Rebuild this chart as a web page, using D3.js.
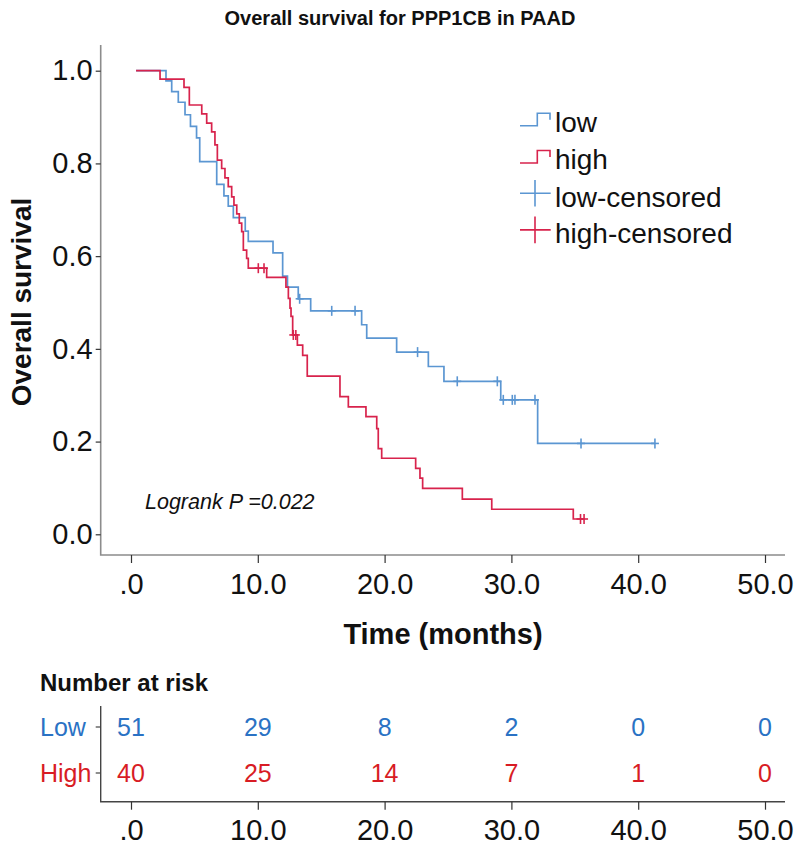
<!DOCTYPE html>
<html>
<head>
<meta charset="utf-8">
<script src="https://cdn.jsdelivr.net/npm/d3@7"></script>
<style>
  html, body { margin: 0; padding: 0; background: #fff; }
  svg { display: block; font-family: "Liberation Sans", Arial, sans-serif; }
</style>
</head>
<body>
<svg id="chart" width="800" height="853"></svg>
<script>
// ---------------- data ----------------
const startTime = 0.4;
// Low group (blue): event times and survival after each drop
const lowTimes = [2.76, 3.21, 3.73, 4.26, 4.69, 5.17, 5.42, 6.76, 7.33, 7.67, 8.07, 9.01, 9.25,
  11.2, 11.96, 12.34, 13.19, 14.17, 18.19, 18.59, 20.95, 23.45, 24.68, 29.16, 32.07];
const lowSurv = [0.978, 0.955, 0.932, 0.905, 0.880, 0.855, 0.804, 0.755, 0.730, 0.708, 0.683, 0.654, 0.632,
  0.607, 0.557, 0.533, 0.508, 0.482, 0.452, 0.423, 0.393, 0.362, 0.330, 0.290, 0.196];
const lowCensor = [13.3, 15.83, 17.67, 22.6, 25.73, 28.89, 29.36, 30.07, 30.28, 31.86, 35.49, 41.32];
const lowEnd = 41.32;

// High group (red)
const highTimes = [2.29, 4.18, 4.60, 5.58, 5.97, 6.36, 6.62, 6.81, 7.15, 7.41, 7.67, 7.94, 8.12, 8.34,
  8.54, 8.73, 8.86, 9.12, 9.25, 10.70, 12.22, 12.41, 12.54, 12.62, 12.75, 13.12, 13.54, 13.90,
  16.48, 17.14, 18.53, 19.38, 19.50, 19.77, 22.45, 22.79, 23.0, 26.13, 28.45, 34.88];
const highSurv = [0.982, 0.964, 0.926, 0.907, 0.887, 0.868, 0.840, 0.807, 0.789, 0.769, 0.750, 0.728, 0.710, 0.691,
  0.671, 0.653, 0.613, 0.595, 0.574, 0.554, 0.533, 0.509, 0.488, 0.470, 0.430, 0.408, 0.386, 0.341,
  0.297, 0.275, 0.254, 0.228, 0.185, 0.164, 0.142, 0.121, 0.099, 0.076, 0.054, 0.033];
const highCensor = [10.04, 10.49, 12.8, 13.0, 35.45, 35.73];
const highEnd = 35.73;

const xTicks = [0, 10, 20, 30, 40, 50];
const xTickLabels = [".0", "10.0", "20.0", "30.0", "40.0", "50.0"];
const yTicks = [0, 0.2, 0.4, 0.6, 0.8, 1.0];
const yTickLabels = ["0.0", "0.2", "0.4", "0.6", "0.8", "1.0"];

const riskGroups = ["Low", "High"];
const lowRisk = [51, 29, 8, 2, 0, 0];
const highRisk = [40, 25, 14, 7, 1, 0];

const legendLabels = ["low", "high", "low-censored", "high-censored"];

const title = "Overall survival for PPP1CB in PAAD";
const pText = "Logrank P =0.022";

// ---------------- styles ----------------
const blue = "#5b96d2";
const red = "#d8234c";
const blueText = "#2a72c4";
const redText = "#d81c24";
const axisGray = "#8c8c8c";
const ink = "#111";

const svg = d3.select("#chart");

const x = d3.scaleLinear().domain([0, 50]).range([131, 765]);
const y = d3.scaleLinear().domain([0, 1]).range([534.3, 70.7]);

const axisLeftX = 100.7, plotBottom = 555, plotTop = 45, axisRight = 785;

// Title
svg.append("text").attr("x", 400).attr("y", 25).attr("text-anchor", "middle")
  .attr("font-weight", "bold").attr("font-size", 20).attr("fill", ink).text(title);

// Axis lines
svg.append("path").attr("d", `M${axisLeftX},${plotTop}V${plotBottom}H${axisRight}`)
  .attr("fill", "none").attr("stroke", axisGray).attr("stroke-width", 1.6);

// Y axis ticks
const yAxis = d3.axisLeft(y).tickValues(yTicks).tickSize(5).tickPadding(3)
  .tickFormat((d, i) => yTickLabels[i]);
const gy = svg.append("g").attr("transform", `translate(${axisLeftX},0)`).call(yAxis);
gy.select(".domain").remove();
gy.selectAll("line").attr("stroke", "#333").attr("stroke-width", 1.2);
gy.selectAll("text").attr("font-size", 29).attr("fill", ink).attr("font-family", "Liberation Sans, Arial, sans-serif");

// X axis ticks
const xAxis = d3.axisBottom(x).tickValues(xTicks).tickSize(8).tickPadding(10)
  .tickFormat((d, i) => xTickLabels[i]);
const gx = svg.append("g").attr("transform", `translate(0,${plotBottom})`).call(xAxis);
gx.select(".domain").remove();
gx.selectAll("line").attr("stroke", "#333").attr("stroke-width", 1.2);
gx.selectAll("text").attr("font-size", 29).attr("fill", ink).attr("font-family", "Liberation Sans, Arial, sans-serif");

// Axis titles
svg.append("text").attr("transform", "translate(31,302) rotate(-90)").attr("text-anchor", "middle")
  .attr("font-weight", "bold").attr("font-size", 28).attr("fill", ink).text("Overall survival");
svg.append("text").attr("x", 443).attr("y", 644).attr("text-anchor", "middle")
  .attr("font-weight", "bold").attr("font-size", 29).attr("fill", ink).text("Time (months)");

// Curves
function buildPoints(times, surv, end) {
  const pts = [[startTime, 1]];
  times.forEach((t, i) => pts.push([t, surv[i]]));
  pts.push([end, surv[surv.length - 1]]);
  return pts;
}
function survAt(times, surv, t) {
  let s = 1;
  for (let i = 0; i < times.length; i++) { if (times[i] <= t) s = surv[i]; }
  return s;
}
const line = d3.line().x(d => x(d[0])).y(d => y(d[1])).curve(d3.curveStepAfter);

const groups = [
  { times: lowTimes, surv: lowSurv, censor: lowCensor, end: lowEnd, color: blue },
  { times: highTimes, surv: highSurv, censor: highCensor, end: highEnd, color: red }
];
groups.forEach(g => {
  svg.append("path").datum(buildPoints(g.times, g.surv, g.end))
    .attr("d", line).attr("fill", "none").attr("stroke", g.color).attr("stroke-width", 1.7);
  const cg = svg.append("g");
  g.censor.forEach(t => {
    const cx = x(t), cy = y(survAt(g.times, g.surv, t));
    cg.append("line").attr("x1", cx).attr("x2", cx).attr("y1", cy - 5).attr("y2", cy + 5)
      .attr("stroke", g.color).attr("stroke-width", 1.6);
    cg.append("line").attr("x1", cx - 4).attr("x2", cx + 4).attr("y1", cy).attr("y2", cy)
      .attr("stroke", g.color).attr("stroke-width", 1.6);
  });
});

// Logrank text
svg.append("text").attr("x", 145).attr("y", 509).attr("font-style", "italic")
  .attr("font-size", 21.5).attr("fill", ink).text(pText);

// Legend
const legendColors = [blue, red, blue, red];
const legendBase = [131.7, 169, 206.7, 243.3];
legendLabels.forEach((lab, i) => {
  const b = legendBase[i];
  if (i < 2) {
    const yb = b - 6, yt = b - 18.5;
    svg.append("path").attr("d", `M520,${yb}H537.3V${yt}H550V${yt + 6.5}`)
      .attr("fill", "none").attr("stroke", legendColors[i]).attr("stroke-width", 1.6);
  } else {
    const cy = b - 13.4;
    svg.append("path").attr("d", `M520,${cy}H550.7M535,${cy - 13.3}V${cy + 13.3}`)
      .attr("fill", "none").attr("stroke", legendColors[i]).attr("stroke-width", 1.6);
  }
  svg.append("text").attr("x", 555).attr("y", b).attr("font-size", 28).attr("fill", ink).text(lab);
});

// ---------------- Number at risk table ----------------
svg.append("text").attr("x", 40).attr("y", 690.5).attr("font-weight", "bold")
  .attr("font-size", 24).attr("fill", ink).text("Number at risk");

const tableBottom = 801.7, tableTop = 706;
svg.append("path").attr("d", `M${axisLeftX},${tableTop}V${tableBottom}H${axisRight}`)
  .attr("fill", "none").attr("stroke", "#444").attr("stroke-width", 1.4);

const rowY = d3.scalePoint().domain(riskGroups).range([727, 773]);
const riskData = [lowRisk, highRisk];
const riskColors = [blueText, redText];
riskGroups.forEach((gname, gi) => {
  const cy = rowY(gname);
  svg.append("text").attr("x", 40).attr("y", cy + 9).attr("font-size", 25)
    .attr("fill", riskColors[gi]).text(gname);
  svg.append("line").attr("x1", axisLeftX - 5).attr("x2", axisLeftX).attr("y1", cy).attr("y2", cy)
    .attr("stroke", "#444").attr("stroke-width", 1.2);
  riskData[gi].forEach((v, i) => {
    svg.append("text").attr("x", x(xTicks[i])).attr("y", cy + 9).attr("text-anchor", "middle")
      .attr("font-size", 25).attr("fill", riskColors[gi]).text(v);
  });
});

const gx2 = svg.append("g").attr("transform", `translate(0,${tableBottom})`).call(xAxis);
gx2.select(".domain").remove();
gx2.selectAll("line").attr("stroke", "#333").attr("stroke-width", 1.2);
gx2.selectAll("text").attr("font-size", 29).attr("fill", ink).attr("font-family", "Liberation Sans, Arial, sans-serif");
</script>
</body>
</html>
